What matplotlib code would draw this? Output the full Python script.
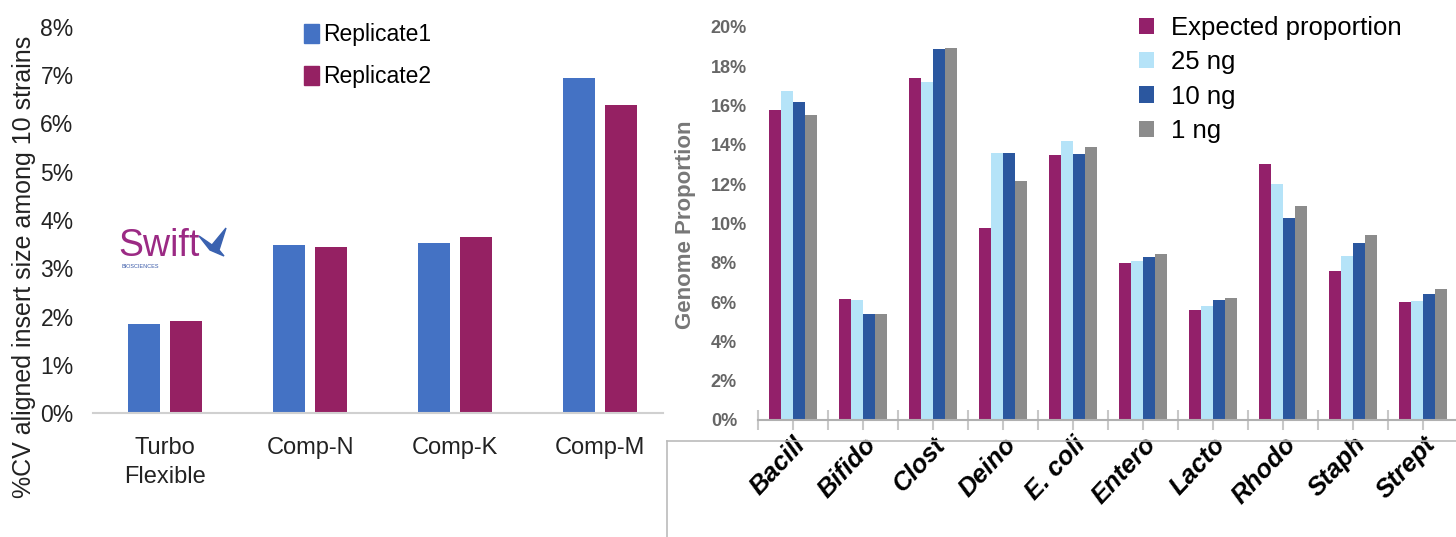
import matplotlib.pyplot as plt
import numpy as np
from matplotlib.lines import Line2D
from matplotlib.patches import Patch, Polygon

plt.rcParams["font.family"] = ["Liberation Sans", "DejaVu Sans"]

# left panel: %CV of aligned insert size
kits = ["Turbo\nFlexible", "Comp-N", "Comp-K", "Comp-M"]
replicate1 = [1.84, 3.49, 3.52, 6.94]
replicate2 = [1.90, 3.45, 3.65, 6.38]
cv_ticks = [0, 1, 2, 3, 4, 5, 6, 7, 8]

# right panel: genome proportion per strain
strains = ["Bacill", "Bifido", "Clost", "Deino", "E. coli", "Entero", "Lacto", "Rhodo", "Staph", "Strept"]
expected = [15.76, 6.16, 17.39, 9.77, 13.50, 8.00, 5.60, 13.04, 7.58, 6.02]
ng25 = [16.73, 6.09, 17.20, 13.60, 14.19, 8.09, 5.79, 12.00, 8.37, 6.05]
ng10 = [16.20, 5.39, 18.87, 13.60, 13.53, 8.31, 6.09, 10.30, 9.00, 6.40]
ng1 = [15.53, 5.39, 18.92, 12.14, 13.91, 8.45, 6.23, 10.89, 9.43, 6.66]
prop_ticks = [0, 2, 4, 6, 8, 10, 12, 14, 16, 18, 20]

W, H = 1456, 537
fig = plt.figure(figsize=(W / 100, H / 100), dpi=100)


def fx(px):
    return px / W


def fy(px):
    return 1 - px / H


# ---- left chart
ax1 = fig.add_axes([fx(93), fy(413), fx(570), 386 / H])
x = np.arange(len(kits))
ax1.bar(x - 0.143, replicate1, width=0.22, color="#4472C4", label="Replicate1")
ax1.bar(x + 0.143, replicate2, width=0.22, color="#952163", label="Replicate2")
ax1.set_xlim(-0.497, 3.434)
ax1.set_ylim(0, 8)
ax1.set_xticks(x)
ax1.set_xticklabels(kits, fontsize=17, linespacing=1.45, color="#222222")
ax1.set_yticks(cv_ticks)
ax1.set_yticklabels([f"{t}%" for t in cv_ticks], fontsize=16.5, color="#222222")
ax1.tick_params(axis="both", length=0)
ax1.tick_params(axis="x", pad=17)
ax1.tick_params(axis="y", pad=14)
for side in ["top", "right", "left"]:
    ax1.spines[side].set_visible(False)
ax1.spines["bottom"].set_color("#d0d0d0")
ax1.spines["bottom"].set_linewidth(1.5)
fig.text(fx(24), fy(267), "%CV aligned insert size among 10 strains", rotation=90,
         ha="center", va="center", fontsize=18, color="#222222")
fig.legend(handles=[Patch(color="#4472C4", label="Replicate1"), Patch(color="#952163", label="Replicate2")],
           loc="upper left", bbox_to_anchor=(fx(304), fy(23)), frameon=False, fontsize=16.5,
           handlelength=0.65, handleheight=0.9, handletextpad=0.2, labelspacing=0.85,
           borderpad=0, borderaxespad=0)

# Swift logo
fig.text(fx(118), fy(246), "Swift", fontsize=27, color="#9b2a84", ha="left", va="center")
fig.text(fx(122), fy(267), "BIOSCIENCES", fontsize=4, color="#3a5aa8", ha="left", va="center")
fig.add_artist(Polygon([(fx(199), fy(236)), (fx(212), fy(245)), (fx(226), fy(228)),
                        (fx(219), fy(250)), (fx(224), fy(256)), (fx(210), fy(250))],
                       closed=True, transform=fig.transFigure, color="#3a62b0"))

# ---- right chart
ax2 = fig.add_axes([fx(758), fy(420), fx(700), 393 / H])
xs = np.arange(len(strains))
step = 0.175
series = [(expected, "#93206a", "Expected proportion"), (ng25, "#b5e3f8", "25 ng"),
          (ng10, "#2b579f", "10 ng"), (ng1, "#8c8c8c", "1 ng")]
for i, (vals, col, lab) in enumerate(series):
    ax2.bar(xs + (i - 1.5) * step, vals, width=0.172, color=col, label=lab)
ax2.set_xlim(-0.5, 9.5)
ax2.set_ylim(0, 20)
ax2.set_xticks(xs)
ax2.set_xticks(np.arange(len(strains) + 1) - 0.5, minor=True)
ax2.set_xticklabels(strains, fontsize=18.5, fontweight="bold", fontstyle="italic",
                    rotation=47, ha="right", rotation_mode="anchor")
ax2.tick_params(axis="x", which="major", direction="out", length=7, width=1.5, color="#c8c8c8", pad=2)
ax2.tick_params(axis="x", which="minor", direction="inout", length=14, width=1.5, color="#c8c8c8")
ax2.set_yticks(prop_ticks)
ax2.set_yticklabels([f"{t}%" for t in prop_ticks], fontsize=13, fontweight="bold", color="#666666",
                    ha="left")
ax2.tick_params(axis="y", length=0, pad=34)
for side in ["top", "right", "left"]:
    ax2.spines[side].set_visible(False)
ax2.spines["bottom"].set_color("#b0b0b0")
ax2.spines["bottom"].set_linewidth(1.5)
fig.text(fx(686), fy(225), "Genome Proportion", rotation=90, ha="center", va="center",
         fontsize=16, fontweight="bold", color="#777777")
ax2.legend(loc="upper left", bbox_to_anchor=(fx(1139), fy(16)), bbox_transform=fig.transFigure,
           frameon=False, fontsize=18.5, handlelength=0.6, handleheight=0.6, handletextpad=0.65,
           labelspacing=0.4, borderpad=0, borderaxespad=0)

# frame lines around the right image
fig.add_artist(Line2D([fx(667), 1], [fy(441), fy(441)], color="#bbbbbb", linewidth=1.2))
fig.add_artist(Line2D([fx(667), fx(667)], [fy(441), 0], color="#bbbbbb", linewidth=1.2))

fig.savefig("out.png", dpi=100)
